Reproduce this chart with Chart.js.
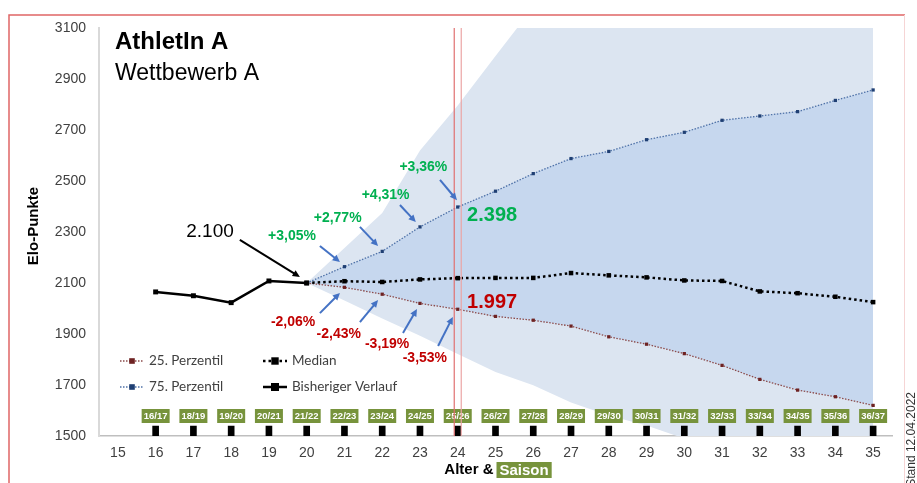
<!DOCTYPE html>
<html>
<head>
<meta charset="utf-8">
<script src="https://cdn.jsdelivr.net/npm/chart.js@4"></script>
<style>
  body { margin: 0; background: #fff; }
  #wrap { width: 917px; height: 483px; position: relative; }
</style>
</head>
<body>
<div id="wrap"><canvas id="chart"></canvas></div>
<script>
// ages on the x axis and the season played at that age
const ages = [15, 16, 17, 18, 19, 20, 21, 22, 23, 24, 25, 26, 27, 28, 29, 30, 31, 32, 33, 34, 35];
const seasons = [null, '16/17', '18/19', '19/20', '20/21', '21/22', '22/23', '23/24', '24/25', '25/26', '26/27',
  '27/28', '28/29', '29/30', '30/31', '31/32', '32/33', '33/34', '34/35', '35/36', '36/37'];
const yTicks = [1500, 1700, 1900, 2100, 2300, 2500, 2700, 2900, 3100];

// Elo values
const history = [null, 2065, 2050, 2023, 2108, 2100, null, null, null, null, null, null, null, null, null, null, null, null, null, null, null];
const median = [null, null, null, null, null, 2100, 2107, 2104, 2114, 2119, 2120, 2120, 2139, 2130, 2122, 2110, 2108, 2067, 2060, 2046, 2025];
const p75 = [null, null, null, null, null, 2100, 2164, 2224, 2320, 2398, 2460, 2529, 2588, 2616, 2662, 2691, 2738, 2755, 2772, 2816, 2857];
const p25 = [null, null, null, null, null, 2100, 2083, 2056, 2020, 1997, 1969, 1954, 1931, 1889, 1860, 1823, 1777, 1722, 1680, 1654, 1620];
// outer light band (clipped by the axis range)
const bandHigh = [null, null, null, null, null, 2100, 2237, 2375, 2620, 2796, 2990, 3182, 3100, 3100, 3100, 3100, 3100, 3100, 3100, 3100, 3100];
const bandLow = [null, null, null, null, null, 2100, 2031, 1961, 1893, 1822, 1751, 1699, 1631, 1580, 1541, 1490, 1450, 1450, 1450, 1450, 1450];
// small black season markers above the axis
const seasonMark = [null, 1539, 1539, 1539, 1539, 1539, 1539, 1539, 1539, 1539, 1539, 1539, 1539, 1539, 1539, 1539, 1539, 1539, 1539, 1539, 1539];

// text notes placed in data units (age, elo)
const notes = [
  { text: '2.100', age: 17.44, elo: 2300, color: '#000', font: '19px "Liberation Sans"' },
  { text: '+3,05%', age: 19.61, elo: 2284, color: '#00B050', font: 'bold 14px "Liberation Sans"' },
  { text: '+2,77%', age: 20.82, elo: 2354, color: '#00B050', font: 'bold 14px "Liberation Sans"' },
  { text: '+4,31%', age: 22.09, elo: 2444, color: '#00B050', font: 'bold 14px "Liberation Sans"' },
  { text: '+3,36%', age: 23.09, elo: 2556, color: '#00B050', font: 'bold 14px "Liberation Sans"' },
  { text: '2.398', age: 24.91, elo: 2363, color: '#00B050', font: 'bold 20px "Liberation Sans"' },
  { text: '-2,06%', age: 19.64, elo: 1947, color: '#C00000', font: 'bold 14px "Liberation Sans"' },
  { text: '-2,43%', age: 20.85, elo: 1900, color: '#C00000', font: 'bold 14px "Liberation Sans"' },
  { text: '-3,19%', age: 22.13, elo: 1861, color: '#C00000', font: 'bold 14px "Liberation Sans"' },
  { text: '-3,53%', age: 23.13, elo: 1806, color: '#C00000', font: 'bold 14px "Liberation Sans"' },
  { text: '1.997', age: 24.91, elo: 2025, color: '#C00000', font: 'bold 20px "Liberation Sans"' }
];
const arrows = [
  { from: [18.23, 2269], to: [19.82, 2124], color: '#000' },
  { from: [20.35, 2245], to: [20.88, 2182], color: '#4472C4' },
  { from: [21.41, 2320], to: [21.89, 2245], color: '#4472C4' },
  { from: [22.47, 2406], to: [22.89, 2339], color: '#4472C4' },
  { from: [23.53, 2504], to: [23.98, 2425], color: '#4472C4' },
  { from: [20.35, 1982], to: [20.88, 2061], color: '#4472C4' },
  { from: [21.41, 1947], to: [21.89, 2033], color: '#4472C4' },
  { from: [22.55, 1904], to: [22.92, 1998], color: '#4472C4' },
  { from: [23.48, 1853], to: [23.87, 1967], color: '#4472C4' }
];
const markAge = 24;

const FONT = '"Liberation Sans", Arial, sans-serif';

function arrow(ctx, x1, y1, x2, y2, color) {
  const a = Math.atan2(y2 - y1, x2 - x1);
  const h = 8;
  ctx.save();
  ctx.strokeStyle = color;
  ctx.fillStyle = color;
  ctx.lineWidth = 2;
  ctx.beginPath();
  ctx.moveTo(x1, y1);
  ctx.lineTo(x2 - Math.cos(a) * h * 0.8, y2 - Math.sin(a) * h * 0.8);
  ctx.stroke();
  ctx.beginPath();
  ctx.moveTo(x2, y2);
  ctx.lineTo(x2 - h * Math.cos(a - 0.45), y2 - h * Math.sin(a - 0.45));
  ctx.lineTo(x2 - h * Math.cos(a + 0.45), y2 - h * Math.sin(a + 0.45));
  ctx.closePath();
  ctx.fill();
  ctx.restore();
}

const extras = {
  id: 'extras',
  afterDraw(chart) {
    const ctx = chart.ctx;
    const xs = chart.scales.x, ys = chart.scales.y;
    const area = chart.chartArea;
    const px = age => xs.getPixelForValue(age - ages[0]);
    const py = elo => ys.getPixelForValue(elo);

    ctx.save();
    // frame
    ctx.strokeStyle = '#E06666';
    ctx.lineWidth = 1.5;
    ctx.beginPath();
    ctx.moveTo(9, 483); ctx.lineTo(9, 15); ctx.lineTo(905, 15);
    ctx.stroke();
    ctx.strokeStyle = '#F6D5D5';
    ctx.lineWidth = 1;
    ctx.beginPath();
    ctx.moveTo(904.5, 15); ctx.lineTo(904.5, 483);
    ctx.stroke();

    // titles
    ctx.fillStyle = '#000';
    ctx.textAlign = 'left';
    ctx.textBaseline = 'alphabetic';
    ctx.font = 'bold 24px ' + FONT;
    ctx.fillText('AthletIn A', 115, 49);
    ctx.font = '23px ' + FONT;
    ctx.fillText('Wettbewerb A', 115, 80);

    // y title
    ctx.save();
    ctx.translate(34, 226);
    ctx.rotate(-Math.PI / 2);
    ctx.font = 'bold 15px ' + FONT;
    ctx.textAlign = 'center';
    ctx.textBaseline = 'middle';
    ctx.fillText('Elo-Punkte', 0, 0);
    ctx.restore();

    // x title "Alter & [Saison]"
    const cx = (area.left + area.right) / 2;
    ctx.font = 'bold 15px ' + FONT;
    ctx.textBaseline = 'middle';
    ctx.textAlign = 'right';
    ctx.fillStyle = '#000';
    ctx.fillText('Alter &', cx - 2, 470);
    ctx.fillStyle = '#77933C';
    const sw = ctx.measureText('Saison').width + 6;
    ctx.fillRect(cx + 1, 462, sw, 16);
    ctx.fillStyle = '#fff';
    ctx.textAlign = 'left';
    ctx.fillText('Saison', cx + 4, 470.5);

    // season tags
    ctx.font = 'bold 9.5px ' + FONT;
    ctx.textAlign = 'center';
    seasons.forEach((s, i) => {
      if (!s) return;
      const x = px(ages[i]);
      ctx.fillStyle = '#77933C';
      ctx.fillRect(x - 14, area.bottom - 27, 28, 14);
      ctx.fillStyle = '#fff';
      ctx.fillText(s, x, area.bottom - 19.5);
    });

    // marker lines at age 24
    const mx = px(markAge);
    ctx.lineWidth = 1.2;
    ctx.strokeStyle = '#E07070';
    ctx.beginPath(); ctx.moveTo(mx - 3.5, area.top); ctx.lineTo(mx - 3.5, area.bottom); ctx.stroke();
    ctx.strokeStyle = '#EBA5A5';
    ctx.beginPath(); ctx.moveTo(mx + 3.5, area.top); ctx.lineTo(mx + 3.5, area.bottom); ctx.stroke();

    // notes and arrows
    notes.forEach(n => {
      ctx.font = n.font;
      ctx.fillStyle = n.color;
      ctx.textAlign = 'center';
      ctx.textBaseline = 'middle';
      ctx.fillText(n.text, px(n.age), py(n.elo));
    });
    arrows.forEach(a => arrow(ctx, px(a.from[0]), py(a.from[1]), px(a.to[0]), py(a.to[1]), a.color));

    // legend
    const items = [
      { ds: 3, label: '25. Perzentil', x: area.left + 21, y: area.top + 333 },
      { ds: 1, label: 'Median', x: area.left + 164, y: area.top + 333 },
      { ds: 2, label: '75. Perzentil', x: area.left + 21, y: area.top + 359 },
      { ds: 0, label: 'Bisheriger Verlauf', x: area.left + 164, y: area.top + 359 }
    ];
    items.forEach(it => {
      const d = chart.data.datasets[it.ds];
      ctx.save();
      ctx.strokeStyle = d.borderColor;
      ctx.lineWidth = d.borderWidth;
      ctx.setLineDash(d.borderDash || []);
      ctx.beginPath();
      ctx.moveTo(it.x, it.y); ctx.lineTo(it.x + 24, it.y);
      ctx.stroke();
      ctx.fillStyle = d.pointBackgroundColor;
      const r = d.pointRadius + 0.5;
      ctx.fillRect(it.x + 12 - r, it.y - r, 2 * r, 2 * r);
      ctx.restore();
      ctx.font = '13.5px Lato, "Open Sans", sans-serif';
      ctx.fillStyle = '#404040';
      ctx.textAlign = 'left';
      ctx.textBaseline = 'middle';
      ctx.fillText(it.label, it.x + 29, it.y);
    });

    // date stamp
    ctx.save();
    ctx.translate(912, 392);
    ctx.rotate(-Math.PI / 2);
    ctx.font = '12px ' + FONT;
    ctx.fillStyle = '#333';
    ctx.textAlign = 'right';
    ctx.textBaseline = 'middle';
    ctx.fillText('Stand 12.04.2022', 0, 0);
    ctx.restore();
    ctx.restore();
  }
};

const data = {
  labels: ages,
  datasets: [
    {
      label: 'Bisheriger Verlauf', data: history, borderColor: '#000', borderWidth: 2.5,
      pointStyle: 'rect', pointRadius: 3.5, pointBackgroundColor: '#000', pointBorderWidth: 0, fill: false
    },
    {
      label: 'Median', data: median, borderColor: '#000', borderWidth: 2.5, borderDash: [2.5, 3],
      pointStyle: 'rect', pointRadius: 3.2, pointBackgroundColor: '#000', pointBorderWidth: 0, fill: false
    },
    {
      label: '75. Perzentil', data: p75, borderColor: '#4F72A8', borderWidth: 1.3, borderDash: [1.5, 1.5],
      pointStyle: 'rect', pointRadius: 2.3, pointBackgroundColor: '#1F3F73', pointBorderWidth: 0, fill: false
    },
    {
      label: '25. Perzentil', data: p25, borderColor: '#8C4C4C', borderWidth: 1.3, borderDash: [1.5, 1.5],
      pointStyle: 'rect', pointRadius: 2.3, pointBackgroundColor: '#6E2222', pointBorderWidth: 0, fill: false
    },
    {
      type: 'bar', label: 'season', data: seasonMark, backgroundColor: '#000', barThickness: 6
    },
    {
      label: 'inner high', data: p75, borderWidth: 0, pointRadius: 0, fill: '+1', backgroundColor: '#C6D7EE'
    },
    {
      label: 'inner low', data: p25, borderWidth: 0, pointRadius: 0, fill: false
    },
    {
      label: 'outer high', data: bandHigh, borderWidth: 0, pointRadius: 0, fill: '+1', backgroundColor: '#DCE5F1'
    },
    {
      label: 'outer low', data: bandLow, borderWidth: 0, pointRadius: 0, fill: false
    }
  ]
};

const config = {
  type: 'line',
  data: data,
  options: {
    responsive: true,
    maintainAspectRatio: false,
    animation: false,
    layout: { padding: { top: 28, right: 25, left: 0, bottom: 0 } },
    elements: { line: { tension: 0 } },
    plugins: {
      legend: { display: false },
      tooltip: { enabled: false },
      filler: { propagate: false }
    },
    scales: {
      x: {
        type: 'category',
        offset: true,
        grid: { display: false, drawTicks: false },
        border: { color: '#BFBFBF', width: 1.5 },
        ticks: { color: '#404040', font: { family: FONT, size: 14 }, padding: 9, maxRotation: 0, autoSkip: false },
        afterFit: s => { s.height = 47; }
      },
      y: {
        min: yTicks[0],
        max: yTicks[yTicks.length - 1],
        grid: { display: false, drawTicks: false },
        border: { color: '#D9D9D9', width: 2 },
        ticks: { color: '#404040', font: { family: FONT, size: 14 }, padding: 13, callback: v => String(v) },
        afterBuildTicks: s => { s.ticks = yTicks.map(v => ({ value: v })); },
        afterFit: s => { s.width = 99; }
      }
    }
  },
  plugins: [extras]
};

new Chart(document.getElementById('chart'), config);
</script>
</body>
</html>
